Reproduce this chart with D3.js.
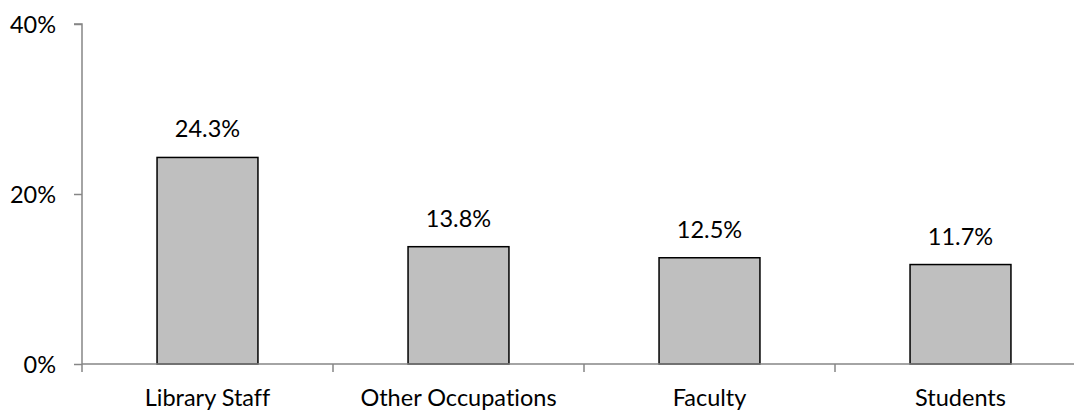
<!DOCTYPE html>
<html><head><meta charset="utf-8">
<script src="https://cdn.jsdelivr.net/npm/d3@7"></script>
<style>html,body{margin:0;padding:0;background:#fff;}svg{display:block;}text{font-family:Lato,"Open Sans",sans-serif;fill:#000;font-variant-ligatures:none;}</style>
</head><body>
<svg id="c" width="1074" height="412"></svg>
<script>
const categories = ["Library Staff", "Other Occupations", "Faculty", "Students"];
const values = [24.3, 13.8, 12.5, 11.7];
const yTicks = [0, 20, 40];

const svg = d3.select("#c");
const fs = 23.5;
const x = d3.scaleBand().domain(categories).range([82, 1086]).paddingInner(0.598).paddingOuter(0.299);
const y = d3.scaleLinear().domain([0, 40]).range([364, 24]);
const step = x.step();
const axisColor = "#868686";

// bars
svg.selectAll("rect.bar").data(values).enter().append("rect")
  .attr("x", (d,i) => x(categories[i]))
  .attr("y", d => y(d))
  .attr("width", x.bandwidth())
  .attr("height", d => y(0) - y(d))
  .attr("fill", "#BFBFBF").attr("stroke", "#000").attr("stroke-width", 1.5);

// y axis
const yAxis = svg.append("g").attr("transform", "translate(82,0)")
  .call(d3.axisLeft(y).tickValues(yTicks).tickSize(8).tickFormat(d => d + "%"));
yAxis.select(".domain").attr("stroke", axisColor).attr("stroke-width", 1.5).attr("d", `M-8,${y(40)}H0V${y(0)}`);
yAxis.selectAll(".tick line").attr("stroke", axisColor).attr("stroke-width", 1.5);
yAxis.selectAll(".tick text").attr("x", -26).attr("font-size", fs).attr("font-family", "Lato").attr("dy", "0.35em");

// x axis baseline
svg.append("line").attr("x1", 82).attr("x2", 1086).attr("y1", y(0)).attr("y2", y(0))
  .attr("stroke", axisColor).attr("stroke-width", 1.5);
// boundary ticks
const bounds = categories.map(c => x(c) - step * x.paddingInner() / 2);
svg.selectAll("line.bt").data(bounds).enter().append("line")
  .attr("x1", d => d).attr("x2", d => d).attr("y1", y(0)).attr("y2", y(0) + 8)
  .attr("stroke", axisColor).attr("stroke-width", 1.5);
// category labels
svg.selectAll("text.cat").data(categories).enter().append("text")
  .attr("x", d => x(d) + x.bandwidth() / 2).attr("y", 406)
  .attr("text-anchor", "middle").attr("font-size", fs).text(d => d);

// value labels
svg.selectAll("text.val").data(values).enter().append("text")
  .attr("x", (d,i) => x(categories[i]) + x.bandwidth() / 2)
  .attr("y", d => y(d) - 20)
  .attr("text-anchor", "middle").attr("font-size", fs).text(d => d.toFixed(1) + "%");
</script>
</body></html>
